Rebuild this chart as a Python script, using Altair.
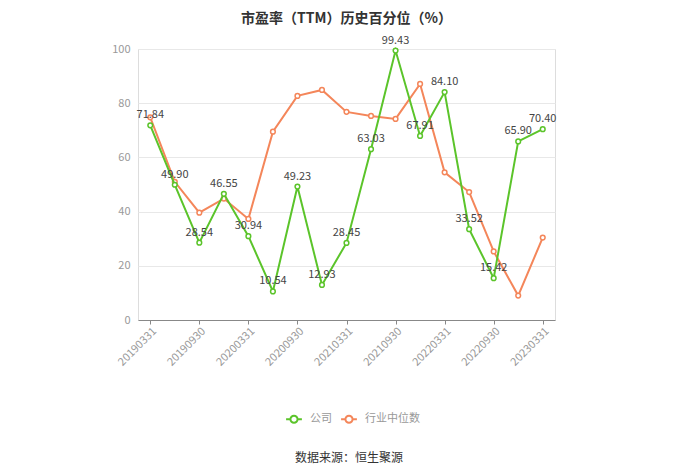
import altair as alt
import pandas as pd

dates = ["20190331", "20190630", "20190930", "20191231", "20200331", "20200630",
         "20200930", "20201231", "20210331", "20210630", "20210930", "20211231",
         "20220331", "20220630", "20220930", "20221231", "20230331"]
company = [71.84, 49.90, 28.54, 46.55, 30.94, 10.54, 49.23, 12.93, 28.45, 63.03,
           99.43, 67.91, 84.10, 33.52, 15.42, 65.90, 70.40]
industry = [74.8, 51.0, 39.6, 44.8, 37.3, 69.5, 82.7, 84.9, 76.8, 75.3, 74.2,
            87.1, 54.5, 47.2, 25.3, 9.0, 30.4]
series_names = ["公司", "行业中位数"]
colors = ["#5bc42a", "#f4865a"]
tick_dates = dates[::2]

rows = []
for d, c, i in zip(dates, company, industry):
    rows.append({"date": d, "series": series_names[0], "value": c})
    rows.append({"date": d, "series": series_names[1], "value": i})
df = pd.DataFrame(rows)
df_c = pd.DataFrame({"date": dates, "value": company})

xscale = alt.Scale(type="point", padding=0.5)
x_enc = alt.X("date:O", scale=xscale, sort=dates,
              axis=alt.Axis(title=None, values=tick_dates, labelAngle=-45,
                            labelAlign="right", labelBaseline="top",
                            labelColor="#999999", labelFontSize=11,
                            labelFont="Noto Sans CJK SC",
                            domainColor="#888888", tickColor="#888888",
                            tickSize=4, labelPadding=1, grid=False))
y_enc = alt.Y("value:Q", scale=alt.Scale(domain=[0, 100]),
              axis=alt.Axis(title=None, values=[0, 20, 40, 60, 80, 100],
                            labelColor="#999999", labelFontSize=11,
                            labelFont="Noto Sans CJK SC",
                            domain=False, ticks=False, labelPadding=8,
                            gridColor="#e8e8e8", gridWidth=1))

legend_path = "M-1,0H-0.45M0.45,0H1M-0.45,0A0.45,0.45 0 1,1 0.45,0A0.45,0.45 0 1,1 -0.45,0Z"
cscale = alt.Scale(domain=series_names, range=colors)
legend = alt.Legend(title=None, orient="none", direction="horizontal",
                    legendX=147, legendY=361,
                    symbolType=legend_path, symbolSize=250,
                    symbolStrokeWidth=2, symbolFillColor="white",
                    labelColor="#999999", labelFontSize=11, labelOffset=7,
                    labelFont="Noto Sans CJK SC", columnPadding=5)

base = alt.Chart(df)


def series_layer(name):
    sub = base.transform_filter(alt.datum.series == name)
    line = sub.mark_line(strokeWidth=2).encode(
        x=x_enc, y=y_enc,
        color=alt.Color("series:N", sort=series_names, scale=cscale, legend=legend),
    )
    pts = sub.mark_point(filled=False, fill="white", size=22, strokeWidth=1.5,
                         opacity=1).encode(
        x=alt.X("date:O", scale=xscale, sort=dates),
        y=alt.Y("value:Q"),
        color=alt.Color("series:N", scale=cscale, legend=None),
    )
    return [line, pts]


labels = alt.Chart(df_c).mark_text(dy=-10, fontSize=11, color="#444444",
                                   font="Noto Sans CJK SC").encode(
    x=alt.X("date:O", scale=xscale, sort=dates),
    y=alt.Y("value:Q"),
    text=alt.Text("value:Q", format=".2f"),
)

source = alt.Chart(pd.DataFrame({"t": ["数据来源：恒生聚源"]})).mark_text(
    fontSize=12, color="#333333", font="Noto Sans CJK SC").encode(
    text="t:N", x=alt.value(211), y=alt.value(409))

layers = series_layer(series_names[1]) + series_layer(series_names[0]) + [labels, source]

chart = alt.layer(*layers).properties(
    width=417, height=271,
    title=alt.TitleParams("市盈率（TTM）历史百分位（%）", fontSize=14, fontWeight="bold",
                          color="#333333", font="Noto Sans CJK SC", anchor="middle",
                          offset=9),
    padding={"left": 130, "top": 41, "right": 130, "bottom": 146},
    autosize=alt.AutoSizeParams(type="none"),
).configure_view(stroke=None).configure(background="white")

chart.save("out.html", embed_options={"renderer": "svg", "actions": False})
